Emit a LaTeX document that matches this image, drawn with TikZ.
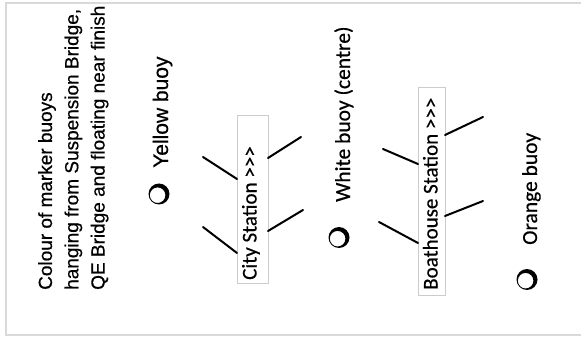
\documentclass[tikz,border=0pt]{standalone}
\usepackage{fontspec}
\newfontfamily\arialf[FakeBold=0.6]{Liberation Sans}
\newfontfamily\calibf[FakeBold=0.5]{Carlito}
\begin{document}
\begin{tikzpicture}[x=1pt,y=1pt,
  frame/.style={draw=black!15,line width=1.5pt},
  stationbox/.style={draw=black!20,line width=0.8pt,rotate=90,inner sep=0pt},
  boxtext/.style={rotate=90,anchor=base west,inner sep=0pt,font=\calibf\fontsize{21}{25}\selectfont},
  label/.style={rotate=90,anchor=base west,inner sep=0pt,font=\calibf\fontsize{21.5}{25}\selectfont},
  wire/.style={line width=2pt,line cap=round},
  ring/.style={fill=black,even odd rule}]
\useasboundingbox (0,0) rectangle (581,-339);
% outer frame (open on the right)
\draw[frame] (585,-3) -- (6,-3) -- (6,-335) -- (585,-335);
% title
\node[rotate=90,anchor=north west,inner sep=0pt,align=left,
      font=\arialf\fontsize{19}{26.3}\selectfont] (title) at (38,-290)
  {Colour of marker buoys\\hanging from Suspension Bridge,\\QE Bridge and floating near finish};
% buoys
\coordinate (yb) at (159,-194);
\coordinate (wb) at (339,-237.5);
\coordinate (ob) at (527,-279.5);
\foreach \b in {yb,wb,ob}
  \fill[ring] (\b) circle[radius=10.5] ++(-1.4,-1.2) circle[radius=7.8];
\node[label,font=\arialf\fontsize{21}{25}\selectfont] (ylab) at (168,-168) {Yellow buoy};
\node[label] (wlab) at (350,-202) {White buoy (centre)};
\node[label] (olab) at (537,-245) {Orange buoy};
% station boxes
\node[stationbox,minimum width=168,minimum height=31] (city) at (252.5,-199) {};
\node[stationbox,minimum width=208,minimum height=27] (boat) at (431.5,-191) {};
\node[boxtext] (citytxt) at (256.5,-280) {City Station >{}>{}>};
\node[boxtext] (boattxt) at (437.5,-290) {Boathouse Station >{}>{}>};
% connector end points
\coordinate (cul) at (203,-157); \coordinate (culb) at (237,-179);
\coordinate (cur) at (301,-137); \coordinate (curb) at (268,-158);
\coordinate (cll) at (203,-227); \coordinate (cllb) at (237,-253);
\coordinate (clr) at (303,-210); \coordinate (clrb) at (268,-231);
\coordinate (bul) at (383,-149); \coordinate (bulb) at (418,-164);
\coordinate (bur) at (483,-117); \coordinate (burb) at (445,-135);
\coordinate (bll) at (379,-222); \coordinate (bllb) at (418,-243);
\coordinate (blr) at (483,-201); \coordinate (blrb) at (445,-216);
\draw[wire] (cul) -- (culb);
\draw[wire] (cur) -- (curb);
\draw[wire] (cll) -- (cllb);
\draw[wire] (clr) -- (clrb);
\draw[wire] (bul) -- (bulb);
\draw[wire] (bur) -- (burb);
\draw[wire] (bll) -- (bllb);
\draw[wire] (blr) -- (blrb);
\end{tikzpicture}
\end{document}
